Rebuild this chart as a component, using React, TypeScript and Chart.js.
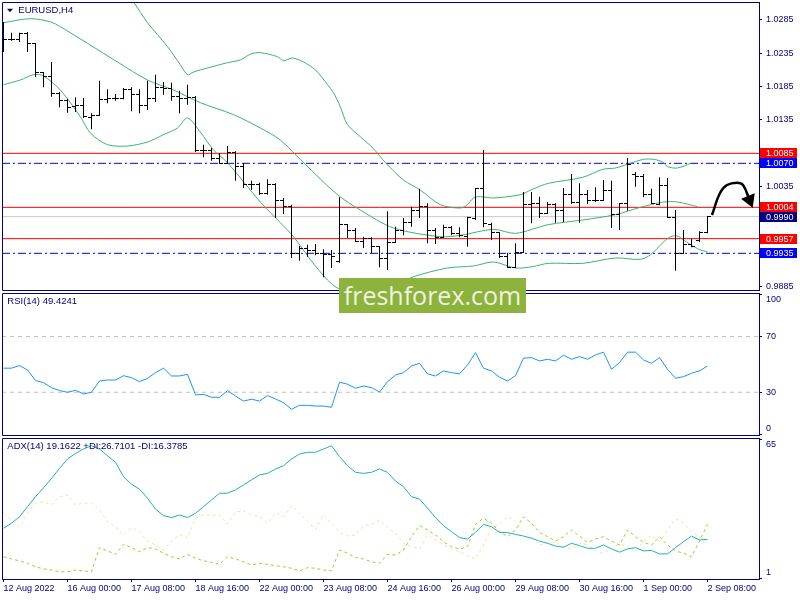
import React, { useEffect, useRef } from "react";
import { Chart, registerables } from "chart.js";
Chart.register(...registerables);

const FONT_FAMILY = "'Liberation Sans', Arial, sans-serif";
const NAVY = "#000080";

// ---------- data ----------
const symbolTitle = "EURUSD,H4";
const rsiTitle = "RSI(14) 49.4241";
const adxTitle = "ADX(14) 19.1622 +DI:26.7101 -DI:16.3785";
const watermarkText = "freshforex.com";

const xTickLabels = [
  "12 Aug 2022", "16 Aug 00:00", "17 Aug 08:00", "18 Aug 16:00", "22 Aug 00:00", "23 Aug 08:00",
  "24 Aug 16:00", "26 Aug 00:00", "29 Aug 08:00", "30 Aug 16:00", "1 Sep 00:00", "2 Sep 08:00",
];
const BARS_PER_LABEL = 8;

const openP = [
  1.0266, 1.0256, 1.0256, 1.0265, 1.0250, 1.0206, 1.0201, 1.0175, 1.0165, 1.0155,
  1.0157, 1.0139, 1.0142, 1.0166, 1.0167, 1.0168, 1.0181, 1.0173, 1.0157, 1.0167,
  1.0184, 1.0183, 1.0170, 1.0168, 1.0169, 1.0090, 1.0089, 1.0078, 1.0070, 1.0087,
  1.0065, 1.0039, 1.0039, 1.0025, 1.0038, 1.0014, 1.0006, 0.9935, 0.9943, 0.9940,
  0.9935, 0.9933, 0.9923, 0.9978, 0.9970, 0.9953, 0.9958, 0.9946, 0.9928, 0.9952,
  0.9970, 0.9982, 0.9999, 1.0006, 0.9969, 0.9959, 0.9974, 0.9965, 0.9960, 0.9988,
  1.0033, 0.9979, 0.9966, 0.9930, 0.9914, 0.9937, 1.0009, 1.0010, 0.9995, 1.0008,
  0.9999, 1.0024, 1.0011, 1.0024, 1.0015, 1.0015, 1.0029, 0.9993, 1.0010, 1.0053,
  1.0051, 1.0023, 1.0008, 1.0037, 0.9989, 0.9935, 0.9948, 0.9955, 0.9967,
];
const highP = [
  1.0282, 1.0266, 1.0266, 1.0267, 1.0250, 1.0206, 1.0222, 1.0177, 1.0167, 1.0169,
  1.0168, 1.0145, 1.0194, 1.0181, 1.0174, 1.0183, 1.0184, 1.0181, 1.0194, 1.0203,
  1.0192, 1.0191, 1.0179, 1.0188, 1.0171, 1.0098, 1.0093, 1.0085, 1.0096, 1.0088,
  1.0070, 1.0044, 1.0041, 1.0046, 1.0040, 1.0018, 1.0008, 0.9946, 0.9948, 0.9949,
  0.9941, 0.9940, 1.0019, 0.9978, 0.9973, 0.9960, 0.9959, 0.9946, 0.9998, 0.9975,
  0.9988, 1.0005, 1.0032, 1.0010, 0.9973, 0.9978, 0.9976, 0.9974, 0.9990, 1.0033,
  1.0090, 0.9981, 0.9966, 0.9936, 0.9950, 1.0027, 1.0027, 1.0020, 1.0012, 1.0010,
  1.0033, 1.0054, 1.0040, 1.0030, 1.0034, 1.0045, 1.0044, 1.0010, 1.0078, 1.0057,
  1.0054, 1.0032, 1.0049, 1.0048, 1.0000, 0.9970, 0.9957, 0.9968, 0.9991,
];
const lowP = [
  1.0237, 1.0254, 1.0252, 1.0237, 1.0199, 1.0184, 1.0170, 1.0154, 1.0146, 1.0147,
  1.0138, 1.0121, 1.0142, 1.0160, 1.0164, 1.0166, 1.0148, 1.0145, 1.0150, 1.0162,
  1.0173, 1.0164, 1.0145, 1.0158, 1.0087, 1.0079, 1.0074, 1.0069, 1.0070, 1.0044,
  1.0033, 1.0030, 1.0023, 1.0023, 0.9988, 0.9994, 0.9928, 0.9924, 0.9930, 0.9932,
  0.9899, 0.9913, 0.9921, 0.9958, 0.9952, 0.9943, 0.9935, 0.9914, 0.9910, 0.9952,
  0.9962, 0.9975, 0.9988, 0.9950, 0.9949, 0.9958, 0.9962, 0.9959, 0.9945, 0.9985,
  0.9974, 0.9955, 0.9928, 0.9913, 0.9913, 0.9937, 0.9980, 0.9988, 0.9994, 0.9981,
  0.9982, 1.0009, 0.9981, 1.0009, 1.0012, 1.0015, 0.9973, 0.9970, 0.9999, 1.0035,
  1.0019, 1.0009, 1.0007, 0.9989, 0.9909, 0.9935, 0.9944, 0.9952, 0.9965,
];
const closeP = [
  1.0256, 1.0256, 1.0265, 1.0250, 1.0206, 1.0201, 1.0175, 1.0165, 1.0154, 1.0157,
  1.0140, 1.0142, 1.0166, 1.0167, 1.0168, 1.0181, 1.0173, 1.0157, 1.0167, 1.0184,
  1.0183, 1.0170, 1.0168, 1.0169, 1.0090, 1.0089, 1.0078, 1.0070, 1.0087, 1.0065,
  1.0039, 1.0039, 1.0025, 1.0038, 1.0014, 1.0006, 0.9935, 0.9943, 0.9940, 0.9935,
  0.9933, 0.9930, 0.9978, 0.9970, 0.9953, 0.9958, 0.9946, 0.9928, 0.9952, 0.9970,
  0.9982, 0.9999, 1.0006, 0.9969, 0.9959, 0.9974, 0.9965, 0.9962, 0.9989, 1.0033,
  0.9980, 0.9966, 0.9930, 0.9914, 0.9937, 1.0009, 1.0010, 0.9995, 1.0008, 0.9999,
  1.0024, 1.0011, 1.0024, 1.0015, 1.0015, 1.0029, 0.9993, 1.0010, 1.0068, 1.0051,
  1.0023, 1.0010, 1.0037, 0.9989, 0.9935, 0.9948, 0.9945, 0.9967, 0.9990,
];

// Bollinger bands, sampled at bar positions (bar index, price)
const upperX = [15, 16.25, 18, 20.5, 22.1, 23, 23.75, 25.5, 28, 29.6, 30.9, 32.1, 34.25, 35, 36.1, 37.5, 39, 40.5, 41.25, 42.1, 43, 44.6, 46.25, 47.75, 50, 52.1, 54.6, 57.1, 58, 58.75, 59.6, 61.25, 64.6, 66.1, 68.1, 72.4, 74.9, 76.5, 78.1, 80, 81.25, 82.4, 83, 84.25, 85.9];
const upperBand = [1.0333, 1.0312, 1.0281, 1.0245, 1.0218, 1.0203, 1.0207, 1.0213, 1.0221, 1.0225, 1.0234, 1.0236, 1.0230, 1.0224, 1.0228, 1.0222, 1.0210, 1.0188, 1.0176, 1.0155, 1.0128, 1.0110, 1.0092, 1.0071, 1.0045, 1.0030, 1.0008, 1.0003, 1.0008, 1.0018, 1.0020, 1.0018, 1.0023, 1.0031, 1.0040, 1.0049, 1.0061, 1.0063, 1.0069, 1.0076, 1.0076, 1.0072, 1.0065, 1.0063, 1.0070];
const middleX = [0, 3.4, 5.9, 7.1, 10.5, 14.25, 18, 21.25, 24.6, 28.75, 32.1, 34.6, 37.5, 41.75, 44.6, 48.75, 54.6, 57.1, 61.25, 64, 68.1, 72.4, 76.5, 79.6, 82.5, 84.25, 86.75];
const middleBand = [1.0281, 1.0287, 1.0282, 1.0275, 1.0250, 1.0222, 1.0195, 1.0180, 1.0161, 1.0143, 1.0123, 1.0105, 1.0071, 1.0023, 1.0000, 0.9973, 0.9960, 0.9962, 0.9971, 0.9965, 0.9978, 0.9985, 0.9993, 1.0004, 1.0012, 1.0012, 1.0005];
const lowerX = [0, 2.1, 3.75, 5, 7.1, 9.6, 10.9, 13, 15.5, 18, 20, 21.75, 23, 24.6, 26.25, 28, 32.1, 34.6, 36.25, 38.4, 40.5, 41.75, 43, 45.25, 47.75, 49.6, 51.25, 55.5, 58.75, 61.25, 64, 66.1, 68.1, 72.4, 76.5, 79.6, 80.9, 82.5, 83.4, 84.25, 85, 86.75, 88];
const lowerBand = [1.0188, 1.0195, 1.0203, 1.0201, 1.0180, 1.0140, 1.0115, 1.0098, 1.0096, 1.0102, 1.0113, 1.0123, 1.0138, 1.0117, 1.0090, 1.0071, 1.0012, 0.9981, 0.9960, 0.9925, 0.9895, 0.9883, 0.9880, 0.9878, 0.9883, 0.9890, 0.9900, 0.9913, 0.9916, 0.9922, 0.9913, 0.9915, 0.9920, 0.9920, 0.9928, 0.9926, 0.9933, 0.9952, 0.9960, 0.9961, 0.9955, 0.9942, 0.9937];

const redLevels = [1.0085, 1.0004, 0.9957];
const blueLevels = [1.0070, 0.9935];
const bidPrice = 0.9990;
const priceTicks = [0.9885, 0.9935, 0.9985, 1.0035, 1.0085, 1.0135, 1.0185, 1.0235, 1.0285];

// forecast arrow path (bar index, price)
const arrowX = [88.56, 89.56, 90.44, 91.69, 92.44, 93.25];
const arrowY = [0.99925, 1.00255, 1.00375, 1.0041, 1.00375, 1.0015];

const rsiValues = [
  47.3, 47.3, 49.2, 46.0, 38.4, 36.9, 33.3, 31.2, 30.0, 31.4,
  28.8, 30.0, 38.1, 38.8, 38.8, 41.9, 40.5, 37.6, 40.0, 44.1,
  47.3, 41.7, 41.7, 42.9, 28.1, 28.5, 26.4, 26.4, 31.2, 27.3,
  23.7, 25.0, 23.7, 27.6, 25.2, 22.5, 17.8, 20.6, 20.6, 20.1,
  20.1, 19.2, 37.2, 35.8, 32.9, 34.5, 33.3, 30.2, 37.6, 42.4,
  44.1, 48.9, 50.8, 43.2, 41.7, 45.3, 44.1, 43.2, 49.6, 58.5,
  47.3, 45.3, 40.8, 38.1, 41.9, 54.5, 54.9, 52.5, 53.7, 52.5,
  56.6, 53.7, 55.6, 53.7, 56.8, 58.8, 46.5, 51.3, 58.8, 58.8,
  53.2, 50.8, 54.9, 46.5, 40.1, 41.2, 43.7, 45.3, 48.9,
];
const rsiLevels = [30, 70];
const rsiTicks = [0, 30, 70, 100];

const adxValues = [
  24.0, 26.3, 29.3, 33.9, 38.5, 42.6, 46.9, 51.5, 55.8, 58.4,
  60.4, 61.9, 60.4, 57.3, 54.3, 47.7, 44.2, 42.0, 37.8, 32.8,
  29.8, 28.9, 30.1, 28.9, 30.9, 33.9, 37.0, 40.1, 40.1, 41.6,
  43.9, 46.2, 48.5, 49.2, 51.2, 52.7, 55.8, 58.1, 58.9, 58.9,
  60.4, 61.9, 56.9, 52.7, 49.7, 49.2, 49.7, 51.2, 49.7, 45.7,
  43.1, 38.5, 37.4, 33.2, 28.9, 25.2, 22.4, 19.7, 19.0, 22.1,
  25.8, 24.7, 22.1, 22.0, 21.2, 20.4, 19.4, 18.1, 17.1, 15.8,
  15.3, 17.1, 16.0, 14.8, 14.8, 16.3, 14.5, 13.0, 14.5, 15.1,
  13.6, 13.8, 12.2, 12.2, 15.1, 17.8, 20.4, 18.6, 18.9,
];
const plusDI = [
  10.9, 9.9, 9.0, 7.9, 6.3, 5.3, 4.8, 4.0, 4.0, 4.8,
  4.4, 4.0, 15.1, 13.6, 12.0, 16.6, 15.1, 13.2, 15.1, 14.5,
  12.5, 10.9, 9.9, 12.0, 10.2, 9.0, 8.4, 7.4, 10.9, 9.9,
  8.6, 7.1, 7.9, 7.4, 6.8, 6.3, 5.6, 4.4, 5.9, 5.6,
  4.8, 4.4, 14.0, 12.5, 10.5, 9.9, 8.6, 7.9, 12.0, 11.7,
  14.0, 20.1, 25.2, 23.2, 20.9, 17.8, 15.5, 14.5, 15.5, 25.8,
  28.6, 26.3, 22.4, 20.1, 23.2, 29.3, 26.3, 22.1, 20.1, 18.1,
  20.1, 23.2, 20.4, 17.5, 19.0, 20.1, 18.1, 16.3, 23.2, 20.1,
  17.5, 16.3, 20.1, 16.3, 13.6, 12.5, 10.9, 18.1, 25.8,
];
const minusDI = [
  30.9, 27.8, 24.7, 30.9, 35.5, 36.2, 34.7, 38.5, 39.3, 34.7,
  35.5, 35.7, 32.4, 27.0, 24.7, 20.9, 24.3, 22.4, 18.1, 16.3,
  14.0, 18.1, 21.2, 19.4, 28.6, 30.1, 30.1, 30.1, 25.8, 31.6,
  31.9, 30.1, 29.3, 26.3, 30.9, 29.3, 34.4, 30.9, 27.0, 23.5,
  30.1, 26.3, 22.0, 20.4, 20.9, 25.2, 25.8, 27.8, 24.3, 21.7,
  17.1, 15.5, 14.5, 20.9, 18.6, 16.3, 14.5, 13.2, 11.4, 9.9,
  16.3, 24.0, 25.8, 29.3, 27.0, 22.4, 20.1, 16.3, 17.1, 17.8,
  15.5, 14.5, 17.1, 16.3, 13.6, 12.5, 14.8, 16.6, 15.8, 13.0,
  18.1, 20.6, 17.8, 23.2, 28.3, 26.3, 22.4, 20.1, 17.1,
];
const adxTicks = [1, 65];

// ---------- layout / style constants ----------
const X_MIN = -0.1875;
const X_MAX = 94.4375;
const AXIS_W = 41;
const PRICE_MIN = 0.988;
const PRICE_MAX = 1.0312;
const RSI_MIN = -0.7;
const RSI_MAX = 101.3;
const ADX_MIN = 0.68;
const ADX_MAX = 65.46;

const font = { family: FONT_FAMILY, size: 9 };

function tickImage(side: "left" | "right") {
  const c = document.createElement("canvas");
  c.width = 7;
  c.height = 1;
  const g = c.getContext("2d")!;
  g.fillStyle = "#000";
  if (side === "left") g.fillRect(0, 0, 4, 1);
  else g.fillRect(3, 0, 4, 1);
  return c;
}

const framePlugin = {
  id: "paneFrame",
  afterDraw(chart: any) {
    const { ctx, chartArea: a } = chart;
    ctx.save();
    ctx.strokeStyle = NAVY;
    ctx.lineWidth = 1;
    const l = Math.round(a.left) + 0.5;
    const t = Math.round(a.top) + 0.5;
    const r = Math.round(a.right) + 0.5;
    const b = Math.round(a.bottom) + 0.5;
    ctx.beginPath();
    ctx.moveTo(r, t);
    ctx.lineTo(l, t);
    ctx.lineTo(l, b);
    ctx.lineTo(r, b);
    ctx.lineTo(r, t);
    ctx.stroke();
    ctx.restore();
  },
};

const titlePlugin = {
  id: "paneTitle",
  afterDraw(chart: any, _args: any, opts: any) {
    const { ctx, chartArea: a } = chart;
    ctx.save();
    ctx.fillStyle = NAVY;
    ctx.font = `9.5px ${FONT_FAMILY}`;
    ctx.textBaseline = "middle";
    ctx.textAlign = "left";
    const cy = a.top + 8.7;
    if (opts.marker) {
      ctx.beginPath();
      ctx.moveTo(a.left + 5, cy - 2);
      ctx.lineTo(a.left + 11, cy - 2);
      ctx.lineTo(a.left + 8, cy + 1.5);
      ctx.closePath();
      ctx.fill();
    }
    ctx.fillText(opts.text, a.left + opts.dx, cy);
    ctx.restore();
  },
};

const levelTagPlugin = {
  id: "levelTags",
  afterDraw(chart: any, _args: any, opts: any) {
    const { ctx, chartArea: a } = chart;
    const ys = chart.scales.y;
    ctx.save();
    ctx.font = `9px ${FONT_FAMILY}`;
    ctx.textBaseline = "middle";
    ctx.textAlign = "left";
    for (const tag of opts.tags) {
      const py = Math.round(ys.getPixelForValue(tag.value));
      ctx.fillStyle = tag.color;
      ctx.fillRect(a.right + 1, py - 5, 37, 10);
      ctx.fillStyle = "#ffffff";
      ctx.fillText(tag.value.toFixed(4), a.right + 7, py + 0.5);
    }
    ctx.restore();
  },
};

type TickSpec = { value: number; text: string; mark: boolean };

function insetTicks(values: number[], lowInset: number, highInset: number, fmt: (v: number) => string): TickSpec[] {
  const out: TickSpec[] = [];
  values.forEach((v, k) => {
    if (k === 0) {
      out.push({ value: v, text: "", mark: true });
      out.push({ value: v + lowInset, text: fmt(v), mark: false });
    } else if (k === values.length - 1) {
      out.push({ value: v, text: "", mark: true });
      out.push({ value: v - highInset, text: fmt(v), mark: false });
    } else {
      out.push({ value: v, text: fmt(v), mark: true });
    }
  });
  return out;
}

function rightAxis(min: number, max: number, ticks: TickSpec[]) {
  return {
    type: "linear",
    position: "right",
    min,
    max,
    bounds: "data",
    afterBuildTicks: (s: any) => {
      s.ticks = ticks.map((t) => ({ ...t }));
    },
    afterFit: (s: any) => {
      s.width = AXIS_W;
      s.paddingTop = 0;
      s.paddingBottom = 0;
    },
    grid: {
      display: true,
      drawOnChartArea: false,
      drawTicks: true,
      tickLength: 3,
      tickColor: (c: any) => (c.tick && c.tick.mark === false ? "rgba(0,0,0,0)" : NAVY),
    },
    border: { display: true, color: NAVY, width: 1 },
    ticks: {
      autoSkip: false,
      color: NAVY,
      font,
      padding: 4,
      callback: (_v: any, i: number, arr: any[]) => arr[i].text,
    },
  };
}

function xAxis(display: boolean) {
  return {
    type: "linear",
    min: X_MIN,
    max: X_MAX,
    bounds: "data",
    offset: false,
    display,
    afterBuildTicks: (s: any) => {
      s.ticks = xTickLabels.map((_, k) => ({ value: k * BARS_PER_LABEL }));
    },
    afterFit: (s: any) => {
      if (display) s.height = 21;
      s.paddingLeft = 0;
      s.paddingRight = 0;
    },
    grid: { display: true, drawOnChartArea: false, drawTicks: true, tickLength: 3, tickColor: NAVY },
    border: { display: true, color: NAVY, width: 1 },
    ticks: {
      autoSkip: false,
      maxRotation: 0,
      minRotation: 0,
      align: "start",
      padding: 1,
      color: NAVY,
      font,
      callback: (_v: any, i: number) => xTickLabels[i],
    },
  };
}

function hLine(value: number, color: string, dash: number[], order: number) {
  return {
    type: "line",
    data: [
      { x: X_MIN, y: value },
      { x: X_MAX, y: value },
    ],
    borderColor: color,
    borderWidth: 1,
    borderDash: dash,
    pointRadius: 0,
    order,
  };
}

function baseOptions(padding: any, scales: any, plugins: any) {
  return {
    responsive: false,
    animation: false,
    events: [],
    layout: { padding, autoPadding: false },
    scales,
    plugins: { legend: { display: false }, tooltip: { enabled: false }, ...plugins },
  };
}

function series(xs: number[], ys: number[]) {
  return ys.map((y, k) => ({ x: xs[k], y }));
}
function byBar(ys: number[]) {
  return ys.map((y, i) => ({ x: i, y }));
}

function buildPrice(canvas: HTMLCanvasElement) {
  const band = (xs: number[], ys: number[]) => ({
    type: "line",
    data: series(xs, ys),
    borderColor: "#3cb371",
    borderWidth: 1,
    pointRadius: 0,
    tension: 0.3,
    order: 2,
  });
  const datasets: any[] = [
    {
      type: "bar",
      data: highP.map((h, i) => ({ x: i, y: [lowP[i], h] })),
      backgroundColor: "#000000",
      borderWidth: 0,
      barThickness: 1,
      inflateAmount: 0,
      grouped: false,
      order: 0,
    },
    {
      type: "line",
      data: byBar(openP),
      showLine: false,
      pointStyle: tickImage("left"),
      pointRadius: 3,
      order: 0,
    },
    {
      type: "line",
      data: byBar(closeP),
      showLine: false,
      pointStyle: tickImage("right"),
      pointRadius: 3,
      order: 0,
    },
    band(upperX, upperBand),
    band(middleX, middleBand),
    band(lowerX, lowerBand),
    ...redLevels.map((v) => hLine(v, "#ff0000", [], 3)),
    ...blueLevels.map((v) => hLine(v, "#0000ff", [8, 3, 2, 3], 3)),
    hLine(bidPrice, "#c8c8c8", [], 4),
    {
      type: "line",
      data: series(arrowX, arrowY),
      borderColor: "#000000",
      backgroundColor: "#000000",
      borderWidth: 2.5,
      tension: 0.4,
      pointStyle: "triangle",
      pointRadius: arrowX.map((_, k) => (k === arrowX.length - 1 ? 6 : 0)),
      rotation: 158,
      order: -1,
    },
  ];
  const tags = [
    ...redLevels.map((v) => ({ value: v, color: "#ff0000" })),
    ...blueLevels.map((v) => ({ value: v, color: "#0000ff" })),
    { value: bidPrice, color: "#000080" },
  ];
  return new Chart(canvas, {
    type: "line",
    data: { datasets },
    options: baseOptions(
      { left: 2, right: 0, top: 2, bottom: 10 },
      {
        x: xAxis(false),
        y: rightAxis(PRICE_MIN, PRICE_MAX, priceTicks.map((v) => ({ value: v, text: v.toFixed(4), mark: true }))),
      },
      {
        paneTitle: { text: symbolTitle, dx: 16.3, marker: true },
        levelTags: { tags },
      }
    ) as any,
    plugins: [framePlugin, titlePlugin, levelTagPlugin],
  } as any);
}

function buildRsi(canvas: HTMLCanvasElement) {
  const datasets: any[] = [
    {
      type: "line",
      data: byBar(rsiValues),
      borderColor: "#1e90ff",
      borderWidth: 1,
      pointRadius: 0,
      order: 0,
    },
    ...rsiLevels.map((v) => hLine(v, "#c0c0c0", [4, 4], 2)),
  ];
  return new Chart(canvas, {
    type: "line",
    data: { datasets },
    options: baseOptions(
      { left: 2, right: 0, top: 10, bottom: 10 },
      {
        x: xAxis(false),
        y: rightAxis(RSI_MIN, RSI_MAX, insetTicks(rsiTicks, 4.1, 3.2, (v) => String(v))),
      },
      { paneTitle: { text: rsiTitle, dx: 5.3, marker: false } }
    ) as any,
    plugins: [framePlugin, titlePlugin],
  } as any);
}

function buildAdx(canvas: HTMLCanvasElement) {
  const datasets: any[] = [
    {
      type: "line",
      data: byBar(adxValues),
      borderColor: "#20b2aa",
      borderWidth: 1,
      pointRadius: 0,
      order: 0,
    },
    {
      type: "line",
      data: byBar(plusDI),
      borderColor: "#9acd32",
      borderWidth: 1,
      borderDash: [3, 3],
      pointRadius: 0,
      order: 1,
    },
    {
      type: "line",
      data: byBar(minusDI),
      borderColor: "#f5deb3",
      borderWidth: 1,
      borderDash: [3, 3],
      pointRadius: 0,
      order: 2,
    },
  ];
  return new Chart(canvas, {
    type: "line",
    data: { datasets },
    options: baseOptions(
      { left: 2, right: 0, top: 10, bottom: 0 },
      {
        x: xAxis(true),
        y: rightAxis(ADX_MIN, ADX_MAX, insetTicks(adxTicks, 2.76, 2.4, (v) => String(v))),
      },
      { paneTitle: { text: adxTitle, dx: 5.3, marker: false } }
    ) as any,
    plugins: [framePlugin, titlePlugin],
  } as any);
}

export default function App() {
  const priceRef = useRef<HTMLCanvasElement>(null);
  const rsiRef = useRef<HTMLCanvasElement>(null);
  const adxRef = useRef<HTMLCanvasElement>(null);

  useEffect(() => {
    const charts = [
      buildPrice(priceRef.current!),
      buildRsi(rsiRef.current!),
      buildAdx(adxRef.current!),
    ];
    return () => charts.forEach((c) => c.destroy());
  }, []);

  const canvasStyle = (top: number, h: number): React.CSSProperties => ({
    position: "absolute",
    left: 0,
    top,
    width: 800,
    height: h,
  });

  return (
    <div style={{ position: "absolute", left: 0, top: 0, width: 800, height: 600, background: "#ffffff", overflow: "hidden" }}>
      <canvas ref={priceRef} width={800} height={300} style={canvasStyle(0, 300)} />
      <canvas ref={rsiRef} width={800} height={162} style={canvasStyle(283, 162)} />
      <canvas ref={adxRef} width={800} height={172} style={canvasStyle(428, 172)} />
      <div
        style={{
          position: "absolute",
          left: 339,
          top: 278,
          width: 187,
          height: 35,
          background: "#8db33c",
          color: "#eef4e2",
          fontFamily: "'Open Sans', sans-serif",
          fontSize: 25,
          lineHeight: "35px",
          textAlign: "center",
          whiteSpace: "nowrap",
        }}
      >
        {watermarkText}
      </div>
    </div>
  );
}
